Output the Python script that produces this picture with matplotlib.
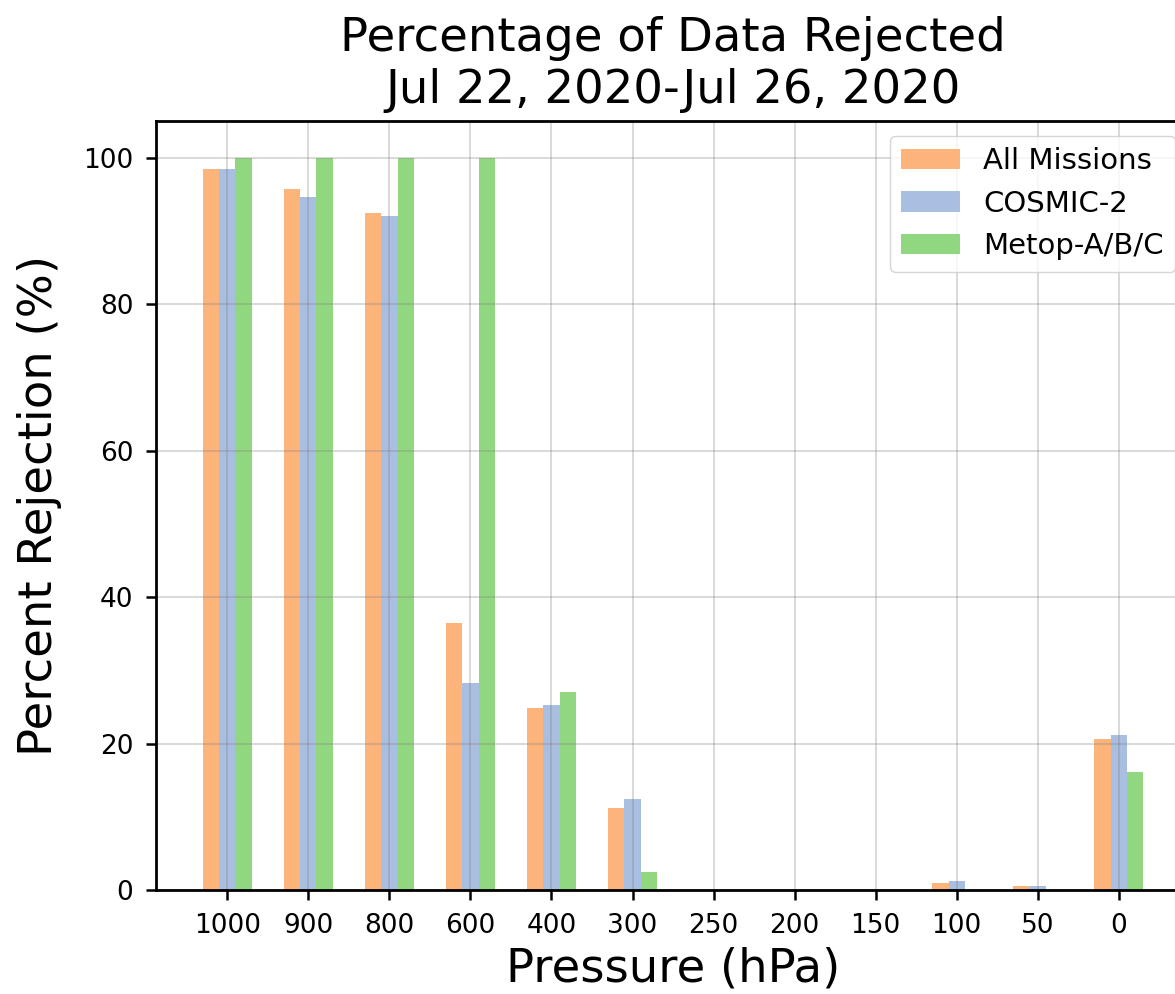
import numpy as np
import matplotlib
matplotlib.use('Agg')
import matplotlib.pyplot as plt

# Pressure levels (hPa) and percentage of rejected observations per mission group
levels = ['1000', '900', '800', '600', '400', '300', '250', '200', '150', '100', '50', '0']
all_missions = [98.4, 95.7, 92.5, 36.4, 24.8, 11.2, 0, 0, 0, 0.9, 0.5, 20.6]
cosmic2 = [98.4, 94.6, 92.0, 28.2, 25.2, 12.4, 0, 0, 0, 1.2, 0.5, 21.2]
metop = [100, 100, 100, 100, 27.1, 2.4, 0, 0, 0, 0, 0, 16.1]

colors = ['#FCB47A', '#A9BFE1', '#90D77F']

fig = plt.figure(figsize=(11.75, 9.94), dpi=100)
# axes extends a little past the right edge of the figure
ax = fig.add_axes([0.1328, 0.1046, 0.8800, 0.7737])

x = np.arange(len(levels))
w = 0.2
ax.bar(x - w, all_missions, w, color=colors[0], label='All Missions')
ax.bar(x, cosmic2, w, color=colors[1], label='COSMIC-2')
ax.bar(x + w, metop, w, color=colors[2], label='Metop-A/B/C')

ax.set_xticks(x)
ax.set_xticklabels(levels)
ax.set_yticks([0, 20, 40, 60, 80, 100])

ax.grid(True, color='gray', alpha=0.35, linewidth=1.2)
ax.tick_params(axis='both', labelsize=19, length=7.3, width=1.8, pad=9,
               colors='black')
for s in ax.spines.values():
    s.set_linewidth(2)

ax.set_xlabel('Pressure (hPa)', fontsize=33.5, labelpad=6)
ax.set_ylabel('Percent Rejection (%)', fontsize=33.5, labelpad=15)
ax.set_title('Percentage of Data Rejected\nJul 22, 2020-Jul 26, 2020',
             fontsize=33.5, pad=13)

ax.legend(loc='upper right', fontsize=21)

fig.savefig('out.png', dpi=100)
